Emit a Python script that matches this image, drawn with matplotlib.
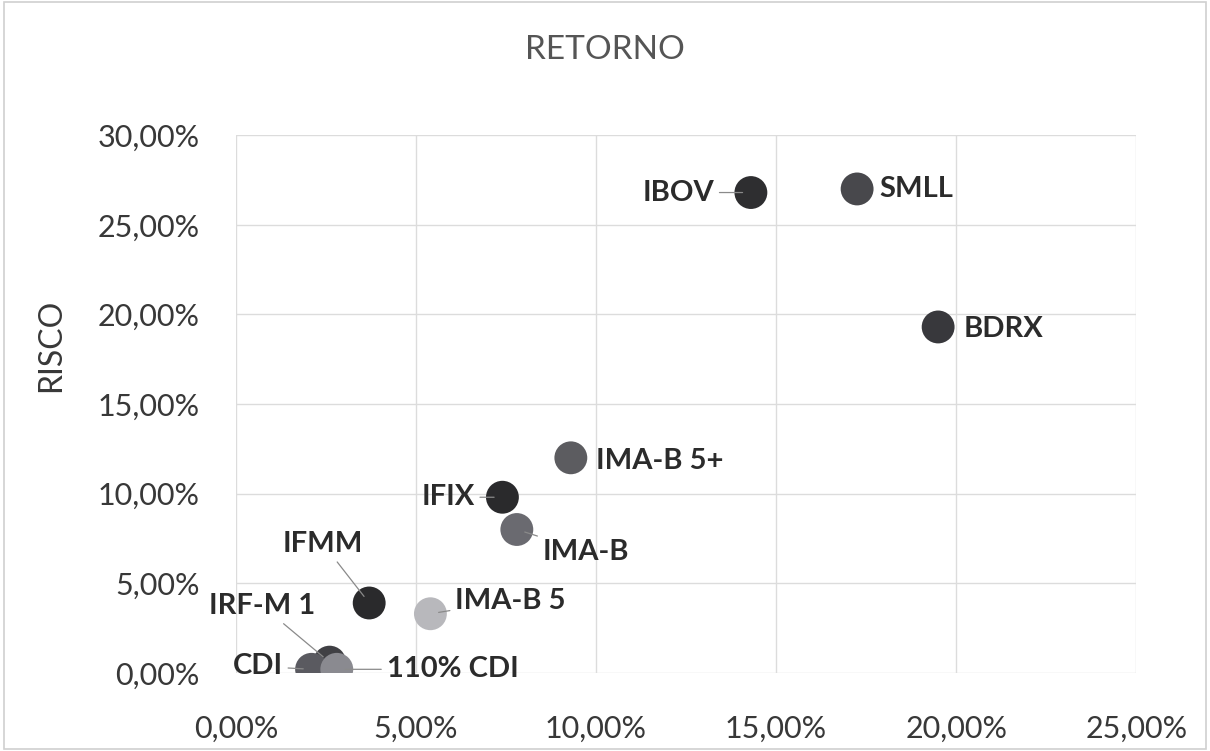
import matplotlib.pyplot as plt
from matplotlib.ticker import FuncFormatter
from matplotlib.patches import Rectangle

plt.rcParams['font.family'] = ['Lato', 'DejaVu Sans']

# dados (retorno x risco, em %)
nomes = ["IBOV", "SMLL", "BDRX", "IMA-B 5+", "IFIX", "IMA-B", "IFMM",
         "IMA-B 5", "IRF-M 1", "CDI", "110% CDI"]
retorno = [14.3, 17.25, 19.5, 9.3, 7.4, 7.8, 3.7, 5.4, 2.6, 2.1, 2.8]
risco = [26.8, 27.0, 19.3, 12.0, 9.8, 8.0, 3.9, 3.3, 0.6, 0.2, 0.2]
cores = ["#2e2e30", "#48484c", "#38383c", "#5c5c60", "#2a2a2c", "#6a6a70",
         "#2a2a2c", "#b8b8bc", "#404044", "#5a5a60", "#8a8a90"]

# deslocamento do rotulo (pixels), alinhamento, linha de chamada
desloc = [(-37, 0), (22, 0), (25, -2), (25, -3), (-28, 0), (26, -22),
          (-46, 59), (25, 13), (-67, 56), (-29, 3), (50, 0)]
alinh = ["right", "left", "left", "left", "right", "left", "center",
         "left", "center", "right", "left"]
chamada = [True, False, False, False, True, True, True, True, True, True, True]

fig = plt.figure(figsize=(12.1, 7.51), dpi=100)
ax = fig.add_axes([0.195, 0.104, 0.744, 0.716])
fig.patches.append(Rectangle((0.003, 0.003), 0.994, 0.994, transform=fig.transFigure,
                             fill=False, edgecolor="#d0d0d0", lw=1.2))

ax.scatter(retorno, risco, s=560, c=cores, zorder=3, edgecolors="none")

for i, n in enumerate(nomes):
    props = dict(arrowstyle="-", color="#8a8a8a", lw=0.9, shrinkA=2, shrinkB=6) if chamada[i] else None
    ax.annotate(n, (retorno[i], risco[i]), xytext=desloc[i], textcoords="offset pixels",
                ha=alinh[i], va="center", fontsize=21, fontweight="bold",
                color="#2b2b2b", arrowprops=props, zorder=4)

ax.set_xlim(0, 25)
ax.set_ylim(0, 30)
ax.set_xticks([0, 5, 10, 15, 20, 25])
ax.set_yticks([0, 5, 10, 15, 20, 25, 30])
fmt = FuncFormatter(lambda v, p: f"{v:.2f}%".replace(".", ","))
ax.xaxis.set_major_formatter(fmt)
ax.yaxis.set_major_formatter(fmt)
ax.tick_params(length=0, labelsize=22, labelcolor="#383838")
ax.tick_params(axis="y", pad=26)
ax.tick_params(axis="x", pad=30)
ax.grid(True, color="#dcdcdc", lw=1)
ax.set_axisbelow(True)
for s in ax.spines.values():
    s.set_visible(False)

fig.text(0.5, 0.933, "RETORNO", ha="center", va="center", fontsize=24, color="#555555")
fig.text(0.042, 0.54, "RISCO", ha="center", va="center", rotation=90, fontsize=23, color="#383838")

fig.savefig("out.png", dpi=100)
